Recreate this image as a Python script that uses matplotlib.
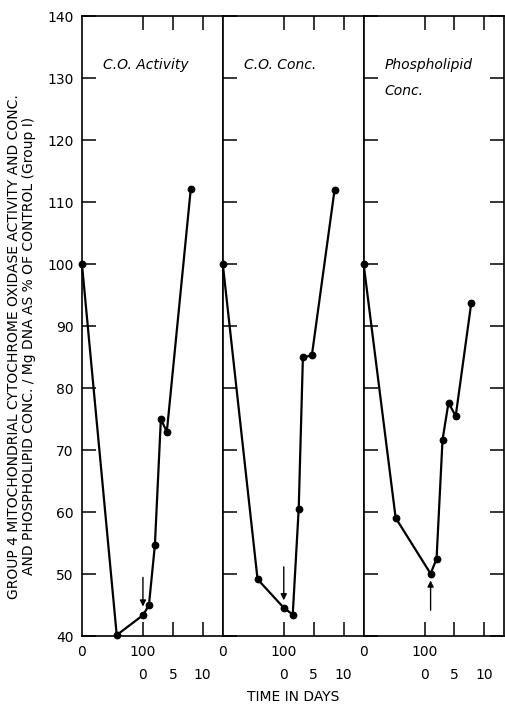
import matplotlib
matplotlib.use("Agg")
import matplotlib.pyplot as plt

# depletion phase days and recovery phase days, values as % of control
titles = ["C.O. Activity", "C.O. Conc.", "Phospholipid\nConc."]

depl_days = [[0, 57], [0, 57], [0, 52.5]]
depl_vals = [[100, 40.2], [100, 49.2], [100, 59.1]]

rec_days = [[0, 1, 2, 3, 4, 8],
            [0, 1.5, 2.5, 3.2, 4.7, 8.5],
            [1, 2, 3, 4, 5.2, 7.8]]
rec_vals = [[43.4, 45.0, 54.7, 75.0, 73.0, 112.1],
            [44.6, 43.5, 60.6, 85.0, 85.3, 112.0],
            [50.1, 52.5, 71.7, 77.7, 75.5, 93.7]]

# arrows mark the start of recovery: (recovery day, tail value, head value)
arrows = [(0, 49.5, 44.8), (0, 51.2, 45.8), (1, 44.2, 49.0)]

yticks = [40, 50, 60, 70, 80, 90, 100, 110, 120, 130, 140]
rec_ticks = [0, 5, 10]

DAY_SCALE = 9.8  # axis units per recovery day


def xpos(days, recovery=False):
    if recovery:
        return [100 + DAY_SCALE * d for d in days]
    return list(days)


lab_font = ["DejaVu Sans"]
title_font = ["DejaVu Sans"]

fig = plt.figure(figsize=(5.06, 7.07), dpi=100)
fig.subplots_adjust(left=0.162, right=0.997, top=0.977, bottom=0.1, wspace=0)
axes = fig.subplots(1, 3)

for i, ax in enumerate(axes):
    xs = xpos(depl_days[i]) + xpos(rec_days[i], recovery=True)
    ys = depl_vals[i] + rec_vals[i]
    ax.plot(xs, ys, color="black", lw=1.6, marker="o", ms=4.6, clip_on=False, zorder=3)

    ax.set_xlim(0, 231)
    ax.set_ylim(40, 140)
    ax.set_yticks(yticks)
    ax.set_xticks(xpos(rec_ticks, recovery=True))
    ax.yaxis.set_ticks_position("both" if i == 2 else "left")
    ax.tick_params(axis="x", direction="in", top=True, bottom=True, length=10,
                   width=1.1, labelbottom=False)
    ax.tick_params(axis="y", direction="in", length=10, width=1.1,
                   labelleft=(i == 0), labelright=False, labelsize=10, pad=6)
    for sp in ax.spines.values():
        sp.set_linewidth(1.2)

    # two-row time axis: depletion days, then recovery days
    tr = ax.get_xaxis_transform()
    for x, s in [(0, "0"), (100, "100")]:
        ax.text(x, -0.026, s, transform=tr, ha="center", va="center", fontsize=10,
                family=lab_font)
    for d in rec_ticks:
        ax.text(xpos([d], recovery=True)[0], -0.063, str(d), transform=tr,
                ha="center", va="center", fontsize=10, family=lab_font)

    ax.text(0.15, 0.933, titles[i], transform=ax.transAxes, ha="left", va="top",
            fontsize=10, style="italic", family=title_font, linespacing=2.1)

    rd, y0, y1 = arrows[i]
    xa = xpos([rd], recovery=True)[0]
    ax.annotate("", xy=(xa, y1), xytext=(xa, y0),
                arrowprops=dict(arrowstyle="-|>", color="black", lw=1.0,
                                mutation_scale=9, shrinkA=0, shrinkB=0))

fig.text(0.579, 0.014, "TIME IN DAYS", ha="center", va="center", fontsize=10,
         family=lab_font)
fig.text(0.027, 0.51, "GROUP 4 MITOCHONDRIAL CYTOCHROME OXIDASE ACTIVITY AND CONC.",
         rotation=90, ha="center", va="center", fontsize=10, family=lab_font)
fig.text(0.058, 0.51, "AND PHOSPHOLIPID CONC. / Mg DNA AS % OF CONTROL (Group I)",
         rotation=90, ha="center", va="center", fontsize=10, family=lab_font)

fig.savefig("out.png", dpi=100, facecolor="white")
